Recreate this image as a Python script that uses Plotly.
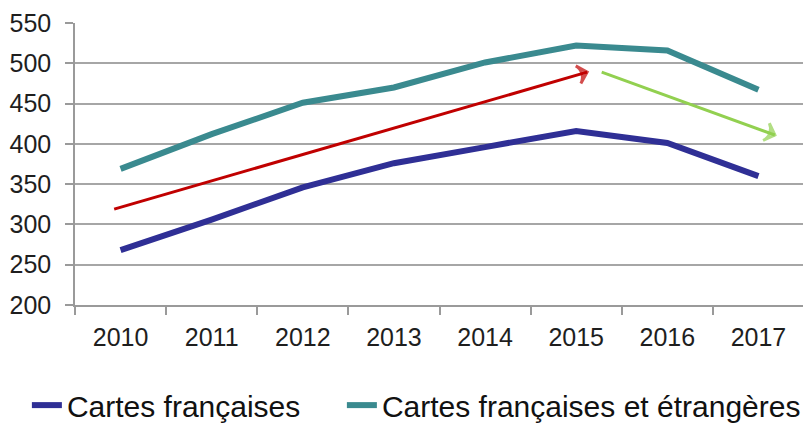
import plotly.graph_objects as go

years = ["2010", "2011", "2012", "2013", "2014", "2015", "2016", "2017"]
cartes_fr = [268, 306, 346, 376, 396, 416, 401, 360]
cartes_fr_etr = [369, 412, 451, 470, 501, 522, 516, 467]

# trend arrows (x in category index units, y in data units)
red_arrow_x = [-0.07, 5.12]
red_arrow_y = [319, 489]
green_arrow_x = [5.28, 7.18]
green_arrow_y = [489, 411]

y_ticks = [200, 250, 300, 350, 400, 450, 500, 550]

idx = list(range(len(years)))

BLUE = "#2f2f95"
TEAL = "#3a8a8f"
RED = "#c00000"
GREEN = "#92d050"

fig = go.Figure()
fig.add_trace(go.Scatter(x=idx, y=cartes_fr, mode="lines", name="Cartes françaises",
                         legendwidth=270,
                         line=dict(color=BLUE, width=6)))
fig.add_trace(go.Scatter(x=idx, y=cartes_fr_etr, mode="lines", name="Cartes françaises et étrangères",
                         line=dict(color=TEAL, width=6)))
for ax, ay, col in [(red_arrow_x, red_arrow_y, RED), (green_arrow_x, green_arrow_y, GREEN)]:
    fig.add_trace(go.Scatter(x=ax, y=ay, mode="lines+markers", showlegend=False,
                             hoverinfo="skip",
                             line=dict(color=col, width=3),
                             marker=dict(symbol="arrow-wide-open", size=[0, 13], angleref="previous",
                                         color=col, line=dict(color=col, width=3))))

# page body has an 8px default margin, so the figure is sized/offset to compensate
fig.update_layout(
    width=803, height=419,
    margin=dict(l=67, r=7, t=15, b=122, autoexpand=False),
    paper_bgcolor="white", plot_bgcolor="white",
    font=dict(family="Liberation Sans, Arial, sans-serif", color="#1e1e1e"),
    legend=dict(orientation="h", x=-0.066, xanchor="left", y=-0.355, yanchor="middle",
                font=dict(size=30, color="#111"), itemwidth=30, tracegroupgap=0),
    showlegend=True,
)
fig.update_xaxes(
    range=[-0.5, 7.5], tickmode="array", tickvals=idx, ticktext=years,
    ticks="", showgrid=False, zeroline=False, automargin=False,
    showline=True, linecolor="#9a9a9a", linewidth=1.5,
    tickfont=dict(size=25), ticklabelstandoff=9,
    minor=dict(tickmode="linear", tick0=-0.5, dtick=1, ticks="outside", ticklen=8,
               tickcolor="#9a9a9a", tickwidth=1.5, showgrid=False),
)
fig.update_yaxes(
    range=[200, 550], tickmode="array", tickvals=y_ticks, automargin=False,
    ticks="outside", ticklen=8, tickcolor="#9a9a9a", tickwidth=1.5,
    showgrid=True, gridcolor="#a6a6a6", gridwidth=1.5, zeroline=False,
    showline=True, linecolor="#9a9a9a", linewidth=1.5,
    tickfont=dict(size=25), ticklabelstandoff=9,
)

fig.write_html("out.html")
